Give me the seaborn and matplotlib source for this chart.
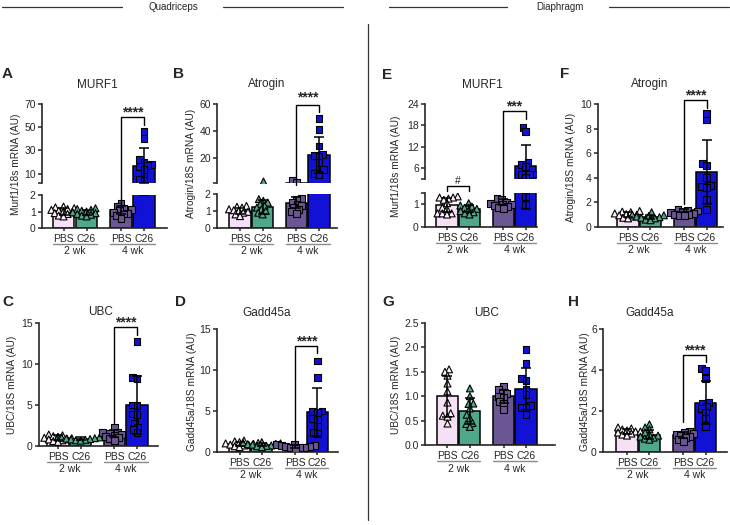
import warnings
import numpy as np
import pandas as pd
import matplotlib
matplotlib.use("Agg")
import matplotlib.pyplot as plt
import matplotlib.transforms as mtransforms
from matplotlib.lines import Line2D
from matplotlib.collections import PathCollection
import seaborn as sns

warnings.filterwarnings("ignore")
sns.set_style("ticks")
plt.rcParams["font.family"] = ["Liberation Sans", "DejaVu Sans"]

W, H = 730, 525

weeks = ["2 wk", "4 wk"]
treatments = ["PBS", "C26"]
groups = [("2 wk", "PBS"), ("2 wk", "C26"), ("4 wk", "PBS"), ("4 wk", "C26")]
bar_colors = ["#f5e0f5", "#4fa88a", "#6b5694", "#1212d6"]
marker_colors = {"2 wk": {"PBS": "#fbf0fb", "C26": "#4fa88a"},
                 "4 wk": {"PBS": "#6b5694", "C26": "#1212d6"}}
week_markers = {"2 wk": "^", "4 wk": "s"}

# ---- Quadriceps ----
# points per group: PBS 2 wk, C26 2 wk, PBS 4 wk, C26 4 wk
murf1_q_pts = [[1.3, 1.25, 1.2, 1.15, 1.1, 1.05, 1.0, 0.95, 0.9, 0.85, 0.75, 0.7],
               [1.2, 1.15, 1.1, 1.05, 1.0, 0.95, 0.9, 0.85, 0.8, 0.75, 0.7],
               [1.5, 1.3, 1.2, 1.1, 1.05, 0.95, 0.9, 0.85, 0.75, 0.6],
               [46, 40, 22, 20, 18, 17, 16, 14, 8, 5, 4]]
murf1_q_mean = [1.0, 0.95, 1.1, 17]
murf1_q_sd = [0.2, 0.17, 0.25, 15]

atrogin_q_pts = [[1.3, 1.25, 1.2, 1.1, 1.05, 1.0, 0.95, 0.9, 0.8, 0.7],
                 [3.2, 1.7, 1.6, 1.5, 1.4, 1.3, 1.2, 1.1, 1.0, 0.9, 0.8],
                 [3.4, 1.75, 1.7, 1.5, 1.4, 1.3, 1.2, 1.1, 0.95, 0.85],
                 [49, 41, 29, 23, 22, 21, 17, 12, 12, 9, 8]]
atrogin_q_mean = [1.0, 1.25, 1.5, 22.5]
atrogin_q_sd = [0.2, 0.4, 0.3, 13.5]

ubc_q_pts = [[1.4, 1.3, 1.2, 1.1, 1.0, 0.95, 0.9, 0.8, 0.7, 0.6, 0.5],
             [1.1, 1.05, 1.0, 0.95, 0.9, 0.85, 0.8, 0.75, 0.7, 0.65],
             [2.3, 1.7, 1.6, 1.5, 1.4, 1.3, 1.2, 1.0, 0.9, 0.7],
             [12.7, 8.3, 8.2, 5.0, 4.9, 3.9, 3.8, 2.7, 2.3, 2.0, 1.6]]
ubc_q_mean = [1.0, 0.9, 1.5, 5.0]
ubc_q_sd = [0.3, 0.15, 0.4, 3.5]

gadd_q_pts = [[1.4, 1.3, 1.2, 1.1, 1.05, 1.0, 0.9, 0.85, 0.8, 0.7, 0.6],
              [1.2, 1.1, 1.05, 1.0, 0.95, 0.9, 0.8, 0.75, 0.7, 0.6],
              [0.95, 0.9, 0.8, 0.75, 0.7, 0.65, 0.6, 0.55, 0.5, 0.4],
              [11.1, 9.1, 5.0, 4.9, 4.8, 4.1, 4.0, 3.1, 2.4, 2.2]]
gadd_q_mean = [1.0, 0.9, 0.68, 4.9]
gadd_q_sd = [0.25, 0.2, 0.2, 2.9]

# ---- Diaphragm ----
murf1_d_pts = [[1.35, 1.3, 1.3, 1.25, 1.2, 1.05, 0.85, 0.8, 0.6, 0.6, 0.6, 0.55],
               [1.05, 0.95, 0.9, 0.85, 0.8, 0.75, 0.7, 0.65, 0.6, 0.55],
               [1.25, 1.2, 1.1, 1.05, 1.0, 1.0, 0.95, 0.9, 0.85, 0.8],
               [17.4, 16.3, 7.6, 7.0, 6.5, 4.4, 4.3, 4.2, 3.5, 1.35, 1.0]]
murf1_d_mean = [0.97, 0.8, 1.1, 6.6]
murf1_d_sd = [0.3, 0.15, 0.15, 5.8]

atrogin_d_pts = [[1.3, 1.25, 1.2, 1.1, 1.05, 1.0, 0.95, 0.85, 0.75, 0.7],
                 [1.2, 1.0, 0.95, 0.9, 0.85, 0.8, 0.75, 0.7, 0.6, 0.55],
                 [1.4, 1.35, 1.3, 1.25, 1.2, 1.1, 1.05, 1.0, 0.95, 0.9],
                 [9.2, 8.7, 5.2, 5.0, 4.0, 3.4, 3.3, 3.2, 2.2, 1.4]]
atrogin_d_mean = [1.0, 0.8, 1.35, 4.45]
atrogin_d_sd = [0.2, 0.18, 0.15, 2.6]

ubc_d_pts = [[1.55, 1.5, 1.42, 1.26, 1.1, 0.87, 0.65, 0.6, 0.58, 0.44],
             [1.16, 1.0, 0.85, 0.84, 0.75, 0.62, 0.55, 0.45, 0.43, 0.37],
             [1.2, 1.13, 1.08, 1.05, 1.0, 0.98, 0.9, 0.85, 0.72],
             [1.96, 1.67, 1.37, 1.33, 1.13, 1.03, 0.8, 0.77, 0.76, 0.63]]
ubc_d_mean = [1.0, 0.7, 1.0, 1.15]
ubc_d_sd = [0.42, 0.27, 0.13, 0.43]

gadd_d_pts = [[1.2, 1.15, 1.1, 1.05, 1.0, 1.0, 0.95, 0.9, 0.85, 0.8],
              [1.35, 1.2, 1.1, 0.95, 0.85, 0.8, 0.75, 0.7, 0.65, 0.6],
              [1.0, 0.95, 0.9, 0.85, 0.8, 0.75, 0.7, 0.6, 0.5],
              [4.08, 3.98, 3.6, 2.4, 2.35, 2.2, 2.1, 1.95, 1.64, 1.25]]
gadd_d_mean = [1.0, 0.85, 0.82, 2.4]
gadd_d_sd = [0.13, 0.22, 0.15, 1.05]

fig = plt.figure(figsize=(7.3, 5.25), dpi=100)
swarms = []


def px_axes(l, t, r, b):
    return fig.add_axes([l / W, 1 - b / H, (r - l) / W, (b - t) / H])


def draw_panel(ax, pts, means, sds, ylim, yticks, ylabels, xlim, bottom=True):
    mdf = pd.DataFrame({"week": [g[0] for g in groups],
                        "treatment": [g[1] for g in groups], "value": means})
    sns.barplot(data=mdf, x="week", y="value", hue="treatment", order=weeks,
                hue_order=treatments, width=0.8, gap=0.06, errorbar=None,
                edgecolor="black", linewidth=1.1, legend=False, ax=ax)
    bars = sorted(ax.patches, key=lambda p: p.get_x())
    centers = []
    for p, c in zip(bars, bar_colors):
        p.set_facecolor(c)
        centers.append(p.get_x() + p.get_width() / 2)
    rows = [(g[0], g[1], v) for g, vals in zip(groups, pts) for v in vals]
    pdf = pd.DataFrame(rows, columns=["week", "treatment", "value"])
    if not bottom:
        # upper part of a broken axis: only the points above the break
        pdf = pdf[pdf.value > ylim[0]]
    for wk in weeks:
        sns.swarmplot(data=pdf[pdf.week == wk], x="week", y="value", hue="treatment",
                      order=weeks, hue_order=treatments, dodge=True,
                      palette=marker_colors[wk], marker=week_markers[wk], size=2.5,
                      edgecolor="black", linewidth=0.8, legend=False, warn_thresh=1,
                      ax=ax, zorder=3)
    swarms.extend(c for c in ax.collections if isinstance(c, PathCollection))
    keep = [i for i in range(4) if bottom or means[i] > ylim[0]]
    ax.errorbar([centers[i] for i in keep], [means[i] for i in keep],
                yerr=[sds[i] for i in keep], fmt="none", ecolor="black", elinewidth=1.1,
                capsize=3.5, capthick=1.1, zorder=5)
    ax.set_xlim(xlim)
    ax.set_ylim(ylim)
    ax.set_yticks(yticks, ylabels)
    ax.set_xlabel("")
    ax.set_ylabel("")
    sns.despine(ax=ax)
    for s in ["left", "bottom"]:
        ax.spines[s].set_linewidth(1.2)
    ax.tick_params(axis="y", length=3, width=1.1, pad=1.5, labelsize=7.5)
    if bottom:
        ax.set_xticks(centers, ["PBS", "C26", "PBS", "C26"])
        ax.tick_params(axis="x", length=2.5, width=1.1, pad=1.5, labelsize=7.5)
        tr = ax.get_xaxis_transform()
        ul = mtransforms.offset_copy(tr, fig=fig, y=-16, units="dots")
        wl = mtransforms.offset_copy(tr, fig=fig, y=-23.5, units="dots")
        for i, wk in enumerate(weeks):
            x0 = bars[2 * i].get_x()
            x1 = bars[2 * i + 1].get_x() + bars[2 * i + 1].get_width()
            ax.plot([x0, x1], [0, 0], color="#8a8a8a", lw=1.0, transform=ul, clip_on=False)
            ax.text(i, 0, wk, transform=wl, ha="center", va="center", fontsize=7.5)
    else:
        ax.spines["bottom"].set_visible(False)
        ax.set_xticks([])
    return centers


def bracket(ax_lo, ax_hi, x0, x1, y0, ytop, y1, label, pad=1, size=10, weight="bold"):
    inv = fig.transFigure.inverted()
    p = [ax_lo.transData.transform((x0, y0)), ax_hi.transData.transform((x0, ytop)),
         ax_hi.transData.transform((x1, ytop)), ax_hi.transData.transform((x1, y1))]
    xs, ys = zip(*inv.transform(p))
    fig.add_artist(Line2D(xs, ys, color="black", lw=1.0, transform=fig.transFigure))
    tx, ty = inv.transform(((p[1][0] + p[2][0]) / 2, p[1][1] + pad))
    fig.text(tx, ty, label, ha="center", va="baseline", fontsize=size, fontweight=weight)


def fig_text(x, y, s, **kw):
    fig.text(x / W, 1 - y / H, s, **kw)


# ---- panels ----
# A: broken axis
aA1 = px_axes(42, 104, 167, 183)
aA0 = px_axes(42, 195, 167, 228)
draw_panel(aA1, murf1_q_pts, murf1_q_mean, murf1_q_sd, (2, 70), [2, 10, 30, 50, 70],
           ["", "10", "30", "50", "70"], (-0.574, 1.60), bottom=False)
cA = draw_panel(aA0, murf1_q_pts, murf1_q_mean, murf1_q_sd, (0, 2), [0, 1, 2],
                ["0", "1", "2"], (-0.574, 1.60))
bracket(aA0, aA1, cA[2], cA[3], 1.27, 58.8, 52, "****")

# B: broken axis
aB1 = px_axes(217, 104, 337, 183)
aB0 = px_axes(217, 194, 337, 228)
draw_panel(aB1, atrogin_q_pts, atrogin_q_mean, atrogin_q_sd, (1.7, 60), [1.7, 20, 40, 60],
           ["", "20", "40", "60"], (-0.608, 1.519), bottom=False)
cB = draw_panel(aB0, atrogin_q_pts, atrogin_q_mean, atrogin_q_sd, (0, 2), [0, 1, 2],
                ["0", "1", "2"], (-0.608, 1.519))
bracket(aB0, aB1, cB[2], cB[3], 2.53, 59.3, 54.3, "****", pad=3)

# C
aC = px_axes(39, 323, 158, 446)
cC = draw_panel(aC, ubc_q_pts, ubc_q_mean, ubc_q_sd, (0, 15), [0, 5, 10, 15],
                ["0", "5", "10", "15"], (-0.537, 1.572))
bracket(aC, aC, cC[2], cC[3], 2.84, 14.5, 13.5, "****")

# D
aD = px_axes(217, 329, 338, 452)
cD = draw_panel(aD, gadd_q_pts, gadd_q_mean, gadd_q_sd, (0, 15), [0, 5, 10, 15],
                ["0", "5", "10", "15"], (-0.604, 1.568))
bracket(aD, aD, cD[2], cD[3], 1.1, 12.9, 12.1, "****")

# E: broken axis
aE1 = px_axes(425, 104, 537, 179)
aE0 = px_axes(425, 193, 537, 227)
draw_panel(aE1, murf1_d_pts, murf1_d_mean, murf1_d_sd, (3, 24), [3, 6, 12, 18, 24],
           ["", "6", "12", "18", "24"], (-0.592, 1.405), bottom=False)
cE = draw_panel(aE0, murf1_d_pts, murf1_d_mean, murf1_d_sd, (0, 1.5), [0, 1, 1.5],
                ["0", "1", ""], (-0.592, 1.405))
bracket(aE0, aE1, cE[2], cE[3], 1.34, 22.0, 19.7, "***")
bracket(aE0, aE0, cE[0], cE[1], 1.6, 1.82, 1.6, "#", pad=2, size=7.5, weight="normal")

# F
aF = px_axes(598, 104, 723, 227)
cF = draw_panel(aF, atrogin_d_pts, atrogin_d_mean, atrogin_d_sd, (0, 10), [0, 2, 4, 6, 8, 10],
                ["0", "2", "4", "6", "8", "10"], (-0.735, 1.494))
bracket(aF, aF, cF[2], cF[3], 1.87, 10.3, 9.7, "****")

# G
aG = px_axes(425, 323, 555, 445)
draw_panel(aG, ubc_d_pts, ubc_d_mean, ubc_d_sd, (0, 2.5), [0, 0.5, 1, 1.5, 2, 2.5],
           ["0.0", "0.5", "1.0", "1.5", "2.0", "2.5"], (-0.601, 1.717))

# H
aH = px_axes(603, 329, 727, 452)
cH = draw_panel(aH, gadd_d_pts, gadd_d_mean, gadd_d_sd, (0, 6), [0, 2, 4, 6],
                ["0", "2", "4", "6"], (-0.628, 1.583))
bracket(aH, aH, cH[2], cH[3], 1.48, 4.73, 4.4, "****")

# ---- labels ----
letters = ["A", "B", "C", "D", "E", "F", "G", "H"]
letter_pos = [(2, 74), (173, 74), (2, 302), (175, 302), (382, 75), (560, 74), (382, 302), (568, 302)]
titles = ["MURF1", "Atrogin", "UBC", "Gadd45a", "MURF1", "Atrogin", "UBC", "Gadd45a"]
title_pos = [(97, 85), (267, 84), (101, 312), (267, 313), (482, 85), (650, 84), (487, 313), (650, 313)]
ylabels = ["Murf1/18s mRNA (AU)", "Atrogin/18S mRNA (AU)", "UBC/18S mRNA (AU)",
           "Gadd45a/18S mRNA (AU)", "Murf1/18s mRNA (AU)", "Atrogin/18S mRNA (AU)",
           "UBC/18S mRNA (AU)", "Gadd45a/18S mRNA (AU)"]
ylabel_pos = [(16, 164), (191, 163), (12, 385), (192, 392), (396, 166), (571, 167), (396, 385), (585, 392)]

for s, (x, y) in zip(letters, letter_pos):
    fig_text(x, y, s, ha="left", va="center", fontsize=11, fontweight="bold")
for s, (x, y) in zip(titles, title_pos):
    fig_text(x, y, s, ha="center", va="center", fontsize=8.5)
for s, (x, y) in zip(ylabels, ylabel_pos):
    fig_text(x, y, s, ha="center", va="center", fontsize=7.3, rotation=90)

# headers and divider
fig_text(173, 7, "Quadriceps", ha="center", va="center", fontsize=7)
fig_text(560, 7, "Diaphragm", ha="center", va="center", fontsize=7)
for x0, x1 in [(2, 122), (223, 343), (389, 507), (609, 729)]:
    fig.add_artist(Line2D([x0 / W, x1 / W], [1 - 7 / H, 1 - 7 / H], color="#333333", lw=0.9))
fig.add_artist(Line2D([368 / W, 368 / W], [1 - 24 / H, 1 - 520 / H], color="#333333", lw=0.9))

# lay the swarms out with small markers, then show them at full size (Prism-like overlap)
fig.canvas.draw()
for c in swarms:
    if "draw" in c.__dict__:
        del c.draw
    c.set_sizes([5.0 ** 2])

fig.savefig("out.png", dpi=100)
